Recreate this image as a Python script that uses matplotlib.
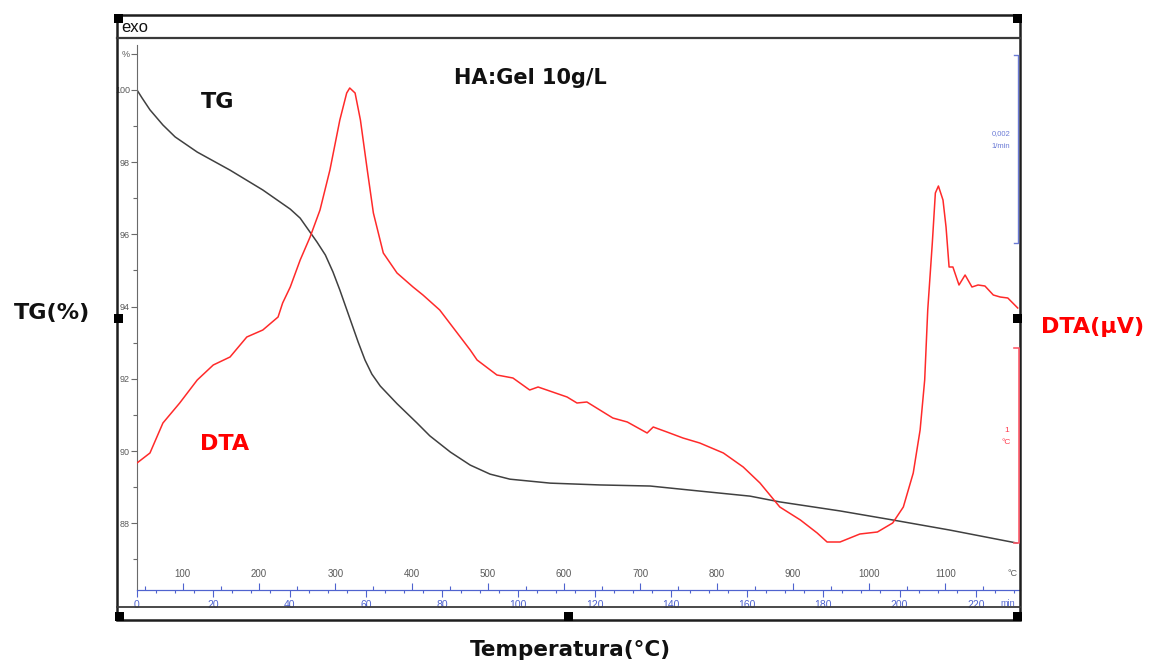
import matplotlib
matplotlib.use("Agg")
import matplotlib.pyplot as plt
from matplotlib.patches import Rectangle
from matplotlib.ticker import FixedLocator, MultipleLocator

# TG curve (mass, %) against furnace temperature
tg_temp = [40, 46.6, 57, 74, 90, 119, 162, 205, 241, 254, 263, 276, 287, 297,
           306, 319, 330, 339, 348, 359, 381, 407, 424, 451, 477, 503, 529,
           582, 647, 713, 778, 844, 883, 962, 1031, 1106, 1194]
tg_pct = [100.0, 99.78, 99.45, 99.03, 98.70, 98.28, 97.78, 97.23, 96.70, 96.45,
          96.18, 95.79, 95.43, 94.96, 94.46, 93.68, 93.02, 92.52, 92.13, 91.80,
          91.31, 90.78, 90.42, 89.97, 89.61, 89.36, 89.22, 89.11, 89.06, 89.03,
          88.89, 88.75, 88.59, 88.34, 88.09, 87.81, 87.45]

# DTA signal (µV) against furnace temperature
dta_temp = [40, 57, 74, 96, 119, 140, 162, 184, 205, 225, 231, 241, 254, 267,
            280, 293, 306, 315, 319, 326, 333, 342, 350, 363, 381, 402, 415,
            437, 450, 477, 486, 512, 533, 555, 566, 604, 617, 630, 664, 683,
            709, 717, 735, 756, 778, 809, 835, 857, 883, 910, 932, 945, 962,
            988, 1011, 1031, 1045, 1058, 1067, 1073, 1077, 1083, 1087, 1091,
            1097, 1101, 1105, 1110, 1118, 1126, 1135, 1143, 1152, 1163, 1172,
            1182, 1195]
dta_uv = [6.35, 6.85, 8.35, 9.35, 10.5, 11.25, 11.65, 12.65, 13.0, 13.65,
          14.35, 15.15, 16.5, 17.65, 19.0, 21.0, 23.5, 24.85, 25.1, 24.85,
          23.5, 21.0, 18.85, 16.85, 15.85, 15.15, 14.75, 14.0, 13.35, 12.0,
          11.5, 10.75, 10.6, 10.0, 10.15, 9.65, 9.35, 9.4, 8.6, 8.4, 7.85,
          8.15, 7.9, 7.6, 7.35, 6.85, 6.15, 5.35, 4.15, 3.5, 2.85, 2.4, 2.4,
          2.8, 2.9, 3.35, 4.15, 5.85, 8.0, 10.5, 14.0, 17.35, 19.85, 20.2,
          19.5, 18.15, 16.15, 16.15, 15.25, 15.75, 15.15, 15.25, 15.2, 14.75,
          14.65, 14.6, 14.1]

tg_ticks = [88, 90, 92, 94, 96, 98, 100]
temp_ticks = [100, 200, 300, 400, 500, 600, 700, 800, 900, 1000, 1100]
min_ticks = list(range(0, 221, 20))

T_START = 40.0   # °C at t = 0
HEAT_RATE = 5.0  # °C/min

BLUE = "#4f63cf"
GREY = "#5a5a5a"
RED = "#ff2a2a"

W, H = 1152, 663
fig = plt.figure(figsize=(W / 100, H / 100), dpi=100)
fig.patch.set_facecolor("white")


def px_box(left, top, right, bottom):
    return [left / W, 1 - bottom / H, (right - left) / W, (bottom - top) / H]


ax = fig.add_axes(px_box(137, 38, 1020, 590))
ax.patch.set_alpha(0)
ax.plot(tg_temp, tg_pct, color="#404040", lw=1.1)
ax.set_xlim(T_START, 1198)
ax.set_ylim(86.15, 101.44)

for side in ("top", "right"):
    ax.spines[side].set_visible(False)
ax.spines["left"].set_color("#6a6a6a")
ax.spines["left"].set_bounds(86.15, 101.25)
ax.spines["bottom"].set_color(BLUE)

# TG scale on the left, "%" sits on the 101 tick
ax.set_yticks(tg_ticks + [101])
ax.set_yticklabels([str(v) for v in tg_ticks] + ["%"])
ax.yaxis.set_minor_locator(FixedLocator([87, 89, 91, 93, 95, 97, 99]))
ax.tick_params(axis="y", which="both", direction="out", color="#6a6a6a",
               labelcolor=GREY, labelsize=6.5, pad=1, width=0.8)
ax.tick_params(axis="y", which="major", length=4)
ax.tick_params(axis="y", which="minor", length=3)
for lab in ax.get_yticklabels():
    lab.set_family("Liberation Sans")

# temperature scale printed just above the time line
ax.set_xticks(temp_ticks)
ax.set_xticklabels([str(v) for v in temp_ticks])
ax.xaxis.set_minor_locator(MultipleLocator(50))
ax.tick_params(axis="x", which="both", direction="in", color=BLUE,
               labelcolor=GREY, labelsize=7, pad=-15, width=0.8)
ax.tick_params(axis="x", which="major", length=5)
ax.tick_params(axis="x", which="minor", length=3)
for lab in ax.get_xticklabels():
    lab.set_family("Liberation Sans")

# time scale (min) under the line
sec = ax.secondary_xaxis(
    "bottom",
    functions=(lambda T: (T - T_START) / HEAT_RATE,
               lambda t: T_START + HEAT_RATE * t))
sec.set_xticks(min_ticks)
sec.xaxis.set_minor_locator(MultipleLocator(5))
sec.spines["bottom"].set_color(BLUE)
sec.tick_params(axis="x", which="both", direction="out", color=BLUE,
                labelcolor=BLUE, labelsize=7.5, pad=2, width=0.8)
sec.tick_params(axis="x", which="major", length=5)
sec.tick_params(axis="x", which="minor", length=2.5)
for lab in sec.get_xticklabels():
    lab.set_family("Liberation Sans")

# DTA on its own hidden scale
ax2 = ax.twinx()
ax2.plot(dta_temp, dta_uv, color=RED, lw=1.1)
ax2.set_ylim(0, 27.6)
ax2.set_axis_off()

# frame, scale bars and labels in pixel space
ov = fig.add_axes([0, 0, 1, 1])
ov.set_xlim(0, W)
ov.set_ylim(H, 0)
ov.set_axis_off()
ov.patch.set_visible(False)

ov.add_patch(Rectangle((117, 15), 903, 605, fill=False, lw=1.8, ec="#1e1e1e"))
ov.plot([117, 1020], [38, 38], color="#3a3a3a", lw=1.6)
ov.plot([117, 1020], [607, 607], color="#3a3a3a", lw=1.3)
for cx, cy in [(118, 18), (1017, 18), (118, 318), (1017, 318),
               (119, 616), (568, 616), (1017, 616)]:
    ov.add_patch(Rectangle((cx - 4.5, cy - 4.5), 9, 9, color="black", lw=0))

# DTG and DTA scale bars on the right
ov.plot([1014, 1018, 1018, 1014], [55, 55, 243, 243], color="#6b7bd6", lw=1)
ov.text(1010, 134, "0,002", color="#6b7bd6", fontsize=5.5, ha="right",
        va="center", family="Liberation Sans")
ov.text(1010, 147, "1/min", color="#6b7bd6", fontsize=5.5, ha="right",
        va="center", family="Liberation Sans")
ov.plot([1014, 1019, 1019, 1014], [348, 348, 543, 543], color="#ff5a6a", lw=1.2)
ov.text(1009, 430, "1", color="#ff3b4e", fontsize=6, ha="right",
        va="center", family="Liberation Sans")
ov.text(1011, 443, "°C", color="#ff3b4e", fontsize=6, ha="right",
        va="center", family="Liberation Sans")

ov.text(1013, 573, "°C", color=GREY, fontsize=6.5, ha="center", va="center",
        family="Liberation Sans")
ov.text(1008, 603, "min", color=BLUE, fontsize=6.5, ha="center", va="center",
        family="Liberation Sans")

ov.text(121, 28, "exo", fontsize=12, ha="left", va="center",
        family="Liberation Sans", color="#111")
ov.text(530, 78, "HA:Gel 10g/L", fontsize=15, fontweight="bold",
        ha="center", va="center", family="DejaVu Sans", color="#111")
ov.text(218, 102, "TG", fontsize=16, fontweight="bold", ha="center",
        va="center", family="DejaVu Sans", color="#111")
ov.text(225, 444, "DTA", fontsize=16, fontweight="bold", ha="center",
        va="center", family="DejaVu Sans", color="red")
ov.text(52, 313, "TG(%)", fontsize=16, fontweight="bold", ha="center",
        va="center", family="DejaVu Sans", color="#111")
ov.text(1093, 327, "DTA(µV)", fontsize=16, fontweight="bold", ha="center",
        va="center", family="DejaVu Sans", color="red")
ov.text(570, 650, "Temperatura(°C)", fontsize=15.5, fontweight="bold",
        ha="center", va="center", family="DejaVu Sans", color="#111")

fig.savefig("out.png", dpi=100, facecolor="white")
